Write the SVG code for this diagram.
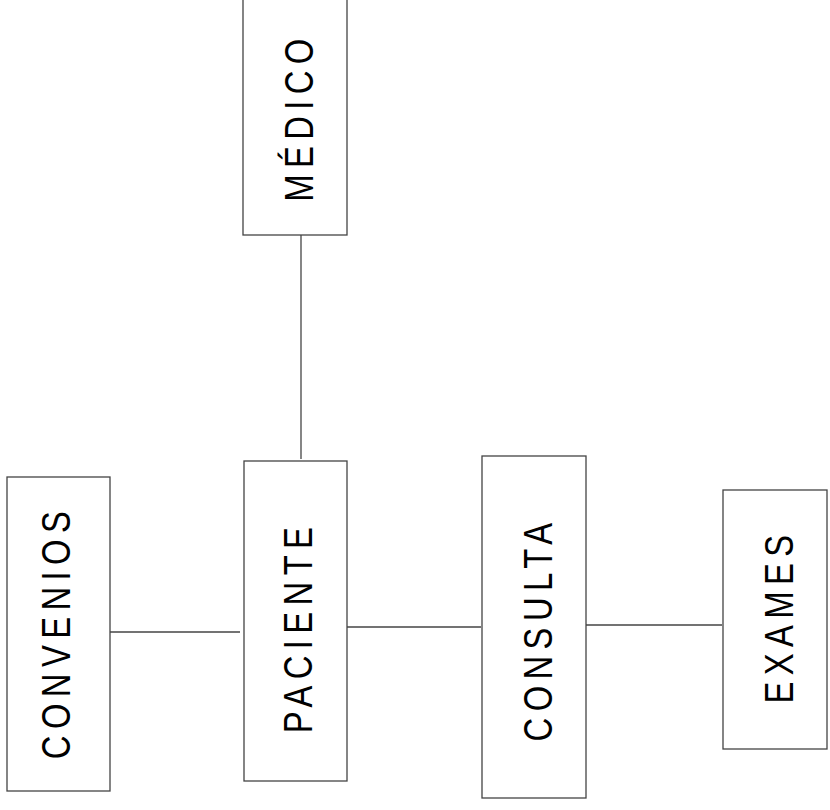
<svg xmlns="http://www.w3.org/2000/svg" width="830" height="810" viewBox="0 0 830 810">
<style>
.box{fill:#fff;stroke:#444;stroke-width:1.3}
.lbl{font-family:"Liberation Sans",Arial,sans-serif;font-size:41px;letter-spacing:8px;fill:#000;text-anchor:middle}
.con{stroke:#444;stroke-width:1.3;fill:none}
</style>
<rect width="830" height="810" fill="#fff"/>
<g id="connectors">
<line class="con" x1="110" y1="632" x2="240" y2="632"/>
<line class="con" x1="301" y1="235" x2="301" y2="459"/>
<line class="con" x1="346" y1="627" x2="481" y2="627"/>
<line class="con" x1="586" y1="625" x2="722" y2="625"/>
</g>
<g id="convenios">
<rect class="box" x="7" y="477" width="103" height="314"/>
<text class="lbl" transform="translate(70,632) rotate(-90) scale(0.8,1)">CONVENIOS</text>
</g>
<g id="medico">
<rect class="box" x="243" y="-5" width="104" height="240"/>
<text class="lbl" transform="translate(313,117) rotate(-90) scale(0.8,1)">MÉDICO</text>
</g>
<g id="paciente">
<rect class="box" x="244" y="461" width="103" height="320"/>
<text class="lbl" transform="translate(312,627) rotate(-90) scale(0.8,1)">PACIENTE</text>
</g>
<g id="consulta">
<rect class="box" x="482" y="456" width="104" height="342"/>
<text class="lbl" transform="translate(552,629) rotate(-90) scale(0.8,1)">CONSULTA</text>
</g>
<g id="exames">
<rect class="box" x="723" y="490" width="104" height="259"/>
<text class="lbl" transform="translate(793,616) rotate(-90) scale(0.8,1)">EXAMES</text>
</g>
</svg>
